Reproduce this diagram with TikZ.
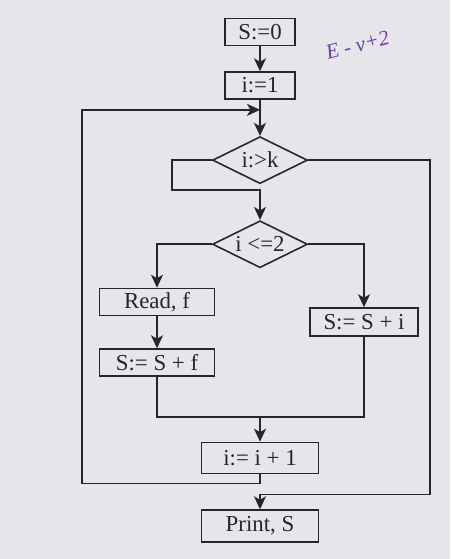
\documentclass[tikz,border=0pt]{standalone}
\usepackage{fontspec}
\setmainfont{Liberation Serif}
\usetikzlibrary{positioning,arrows.meta,shapes.geometric,calc}
\definecolor{Ink}{RGB}{38,38,42}
\definecolor{Paper}{RGB}{229,229,234}
\definecolor{Pen}{RGB}{105,60,175}

\begin{document}
\begin{tikzpicture}[node distance=.5cm,
 box/.style={draw=Ink,line width=.9pt,text=Ink,minimum height=.54cm,inner sep=1pt,font=\fontsize{13}{14}\selectfont},
 test/.style={diamond,aspect=2,draw=Ink,line width=.9pt,text=Ink,minimum width=1.9cm,minimum height=.94cm,inner sep=0pt,font=\fontsize{13}{14}\selectfont},
 a/.style={-{Stealth[length=2.6mm,width=2.4mm,inset=.7mm]},line width=.9pt,Ink},
 l/.style={line width=.9pt,Ink}]
\fill[Paper] (0,0) rectangle (9,-11.18);
\useasboundingbox (0,0) rectangle (9,-11.18);
\node[box,minimum width=1.4cm] (s0) at (5.2,-.64) {S:=0};
\node[box,minimum width=1.4cm,below=.5cm of s0] (i1) {i:=1};
\node[test,below=.72cm of i1] (gtk) {i:>k};
\node[test,below=.71cm of gtk] (le2) {i <=2};
\node[box,minimum width=2.3cm] (rdf) at (3.14,-6.04) {Read, f};
\node[box,minimum width=2.3cm,below=.64cm of rdf] (addf) {S:= S + f};
\node[box,minimum width=2.16cm,minimum height=.56cm] (addi) at (7.28,-6.44) {S:= S + i};
\node[box,minimum width=2.34cm,minimum height=.62cm] (inc) at (5.2,-9.16) {i:= i + 1};
\node[box,minimum width=2.34cm,minimum height=.64cm,below=.7cm of inc] (prt) {Print, S};
% note in pen
\node[Pen,rotate=15,font=\itshape\fontsize{12}{14}\selectfont] (note) at (7.15,-.9) {E - v+2};
% joints
\coordinate (join) at ($(i1.south)+(0,-.2)$);
\coordinate[above=.5cm of inc] (mrg);
\coordinate (lx) at (1.64,0);
\coordinate (rx) at (8.6,0);
\coordinate[above=.3cm of prt] (back);
\draw[a] (s0)--(i1);
\draw[a] (i1)--(gtk);
\draw[a] (inc.south)--++(0,-.18)-|(lx |- join)--(join);
\draw[a] (gtk.west)--++(-.8,0)--++(0,-.6)-|(le2.north);
\draw[a] (gtk.east)-|(rx |- back)--(back)--(prt.north);
\draw[a] (le2.west)-|(rdf.north);
\draw[a] (le2.east)-|(addi.north);
\draw[a] (rdf)--(addf);
\draw[l] (addf.south)|-(addi.south |- mrg)--(addi.south);
\draw[a] (mrg)--(inc.north);
\end{tikzpicture}
\end{document}
